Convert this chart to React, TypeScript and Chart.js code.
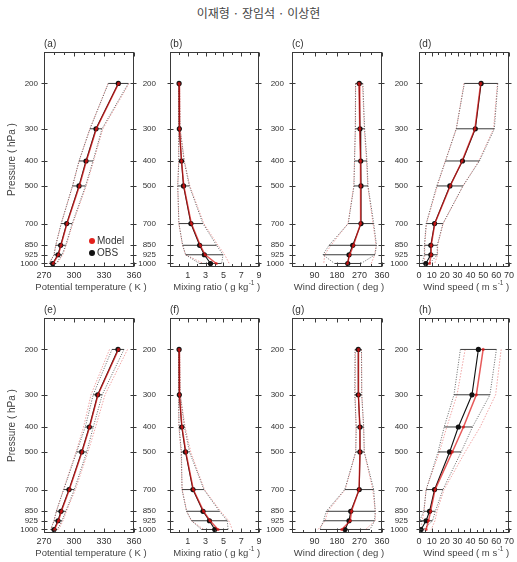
import React, { useEffect, useRef } from 'react';
import { Chart, registerables } from 'chart.js';

Chart.register(...registerables);

const FONT = '"Liberation Sans", Arial, Helvetica, sans-serif';
Chart.defaults.font.family = FONT;

// Pressure levels (hPa)
const LEVELS = [200, 300, 400, 500, 700, 850, 925, 1000];

// x-axis tick positions and the ones that carry a label
const THETA_TICKS = [270, 280, 290, 300, 310, 320, 330, 340, 350, 360];
const THETA_LABELS = [270, 300, 330, 360];
const MIX_TICKS = [-1, 0, 1, 2, 3, 4, 5, 6, 7, 8, 9];
const MIX_LABELS = [1, 3, 5, 7, 9];
const DIR_TICKS = [0, 45, 90, 135, 180, 225, 270, 315, 360];
const DIR_LABELS = [90, 180, 270, 360];
const SPD_TICKS = [0, 5, 10, 15, 20, 25, 30, 35, 40, 45, 50, 55, 60, 65, 70];
const SPD_LABELS = [0, 10, 20, 30, 40, 50, 60, 70];

// Upper row: level means and standard deviations
const thetaObsU = [344.3, 322.0, 312.0, 305.0, 292.7, 286.7, 284.0, 278.7];
const thetaObsSdU = [10.0, 6.0, 7.0, 6.5, 5.5, 5.0, 4.0, 3.5];
const thetaModU = [344.6, 322.4, 312.4, 305.4, 293.0, 287.0, 284.4, 279.2];
const thetaModSdU = [10.5, 6.5, 7.2, 6.8, 5.8, 5.2, 4.4, 4.0];

const mixObsU = [0.02, 0.05, 0.29, 0.52, 1.35, 2.33, 2.86, 3.55];
const mixObsSdU = [0.05, 0.08, 0.3, 0.65, 1.35, 1.9, 2.1, 1.25];
const mixModU = [0.02, 0.06, 0.3, 0.55, 1.4, 2.4, 2.95, 4.2];
const mixModSdU = [0.05, 0.09, 0.32, 0.68, 1.4, 2.0, 2.2, 1.45];

const dirObsU = [269, 272, 275, 276, 276, 243, 228, 223];
const dirObsSdU = [14.5, 18.5, 25, 28, 51, 95, 104, 53];
const dirModU = [268, 271, 274, 275, 274, 246, 231, 222];
const dirModSdU = [14, 18, 24, 28, 50, 90, 100, 95];

const spdObsU = [48.3, 43.8, 33.8, 24.0, 12.1, 9.2, 9.2, 5.3];
const spdObsSdU = [13, 14.8, 13.2, 10.2, 6.5, 5, 5, 3];
const spdModU = [48.0, 43.5, 33.5, 24.3, 12.3, 9.5, 9.5, 8.2];
const spdModSdU = [13, 14.5, 13, 10, 6.5, 5, 5, 4];

// Lower row
const thetaObsL = [344.0, 323.7, 315.3, 307.7, 295.0, 287.0, 284.0, 280.0];
const thetaObsSdL = [6, 4.5, 4, 5, 5.3, 4.7, 4, 3.3];
const thetaModL = [344.5, 324.0, 315.6, 308.0, 295.4, 287.4, 284.5, 280.6];
const thetaModSdL = [9, 7, 6, 6, 6, 5, 4.5, 4];

const mixObsL = [0.02, 0.05, 0.32, 0.74, 1.58, 2.71, 3.43, 4.03];
const mixObsSdL = [0.05, 0.1, 0.3, 0.45, 1.23, 1.85, 2.0, 1.5];
const mixModL = [0.02, 0.06, 0.35, 0.78, 1.62, 2.78, 3.5, 4.4];
const mixModSdL = [0.05, 0.1, 0.35, 0.55, 1.25, 1.9, 2.1, 1.6];

const dirObsL = [265, 265, 272, 272, 269, 235, 228, 212];
const dirObsSdL = [13, 14, 15, 17, 58, 98, 102, 100];
const dirModL = [266, 266, 271, 272, 268, 238, 233, 199];
const dirModSdL = [12, 13, 15, 17, 55, 95, 100, 95];

const spdObsL = [46.2, 41.2, 30.6, 23.8, 12.1, 8.2, 5.5, 1.6];
const spdObsSdL = [14, 14, 11, 9, 6.5, 4.5, 5, 2];
const spdModL = [49.9, 44.6, 34.6, 25.9, 12.5, 9.0, 7.4, 5.5];
const spdModSdL = [14, 15, 13, 10, 7, 5, 5, 4];

// Panel geometry
const PL = 44; // room left of the frame for pressure labels
const PT = 22; // room above the frame for the panel tag
const PB = 27; // room below the frame for x labels and title
const FRAME_H = 215;
const ROW_TOPS = [52, 318];
const P_MIN = 151;
const P_MAX = 1032;

type Column = {
  left: number;
  width: number;
  min: number;
  max: number;
  ticks: number[];
  labels: number[];
  title: string[];
  gap: number;
};

const COLUMNS: Column[] = [
  { left: 44, width: 90, min: 270, max: 360, ticks: THETA_TICKS, labels: THETA_LABELS, title: ['Potential temperature ( K )'], gap: 6 },
  { left: 170, width: 89, min: -1, max: 9, ticks: MIX_TICKS, labels: MIX_LABELS, title: ['Mixing ratio ( g kg', '-1', ' )'], gap: 14 },
  { left: 292, width: 90, min: 0, max: 360, ticks: DIR_TICKS, labels: DIR_LABELS, title: ['Wind direction ( deg )'], gap: 8 },
  { left: 419, width: 90, min: 0, max: 70, ticks: SPD_TICKS, labels: SPD_LABELS, title: ['Wind speed ( m s', '-1', ' )'], gap: 11 },
];

type Series = { obs: number[]; obsSd: number[]; mod: number[]; modSd: number[] };

const ROW_SERIES: Series[][] = [
  [
    { obs: thetaObsU, obsSd: thetaObsSdU, mod: thetaModU, modSd: thetaModSdU },
    { obs: mixObsU, obsSd: mixObsSdU, mod: mixModU, modSd: mixModSdU },
    { obs: dirObsU, obsSd: dirObsSdU, mod: dirModU, modSd: dirModSdU },
    { obs: spdObsU, obsSd: spdObsSdU, mod: spdModU, modSd: spdModSdU },
  ],
  [
    { obs: thetaObsL, obsSd: thetaObsSdL, mod: thetaModL, modSd: thetaModSdL },
    { obs: mixObsL, obsSd: mixObsSdL, mod: mixModL, modSd: mixModSdL },
    { obs: dirObsL, obsSd: dirObsSdL, mod: dirModL, modSd: dirModSdL },
    { obs: spdObsL, obsSd: spdObsSdL, mod: spdModL, modSd: spdModSdL },
  ],
];

const TAGS = [
  ['(a)', '(b)', '(c)', '(d)'],
  ['(e)', '(f)', '(g)', '(h)'],
];

type PanelCfg = {
  tag: string;
  col: Column;
  top: number;
  series: Series;
  yTitle: boolean;
  legend: boolean;
};

const PANELS: PanelCfg[] = [];
ROW_TOPS.forEach((top, r) => {
  COLUMNS.forEach((col, c) => {
    PANELS.push({ tag: TAGS[r][c], col, top, series: ROW_SERIES[r][c], yTitle: c === 0, legend: r === 0 && c === 0 });
  });
});

const OBS_COLOR = '#111111';
const MOD_COLOR = '#e3201b';
const MOD_LINE = 'rgba(220,20,20,0.7)';

const atLevels = (xs: number[]) => xs.map((x, i) => ({ x, y: LEVELS[i] }));

function buildDatasets(s: Series): any[] {
  const bars = LEVELS.map((p, i) => ({
    data: [
      { x: s.obs[i] - s.obsSd[i], y: p },
      { x: s.obs[i] + s.obsSd[i], y: p },
    ],
    borderColor: '#3a3a3a',
    borderWidth: 1,
    pointRadius: 0,
  }));
  const envelope = (vals: number[], sd: number[], sign: number, color: string, dash: number[]) => ({
    data: atLevels(vals.map((v, i) => v + sign * sd[i])),
    borderColor: color,
    borderWidth: 0.9,
    borderDash: dash,
    pointRadius: 0,
  });
  // first entries are drawn on top
  return [
    {
      label: 'Model',
      data: atLevels(s.mod),
      borderColor: MOD_LINE,
      borderWidth: 1.5,
      pointRadius: 1.6,
      pointBackgroundColor: MOD_LINE,
      pointBorderWidth: 0,
    },
    {
      label: 'OBS',
      data: atLevels(s.obs),
      borderColor: OBS_COLOR,
      borderWidth: 1.1,
      pointRadius: 2.6,
      pointBackgroundColor: OBS_COLOR,
      pointBorderWidth: 0,
    },
    ...bars,
    envelope(s.obs, s.obsSd, -1, '#555555', [1, 1.5]),
    envelope(s.obs, s.obsSd, 1, '#555555', [1, 1.5]),
    envelope(s.mod, s.modSd, -1, 'rgba(225,70,70,0.55)', [1.5, 1.5]),
    envelope(s.mod, s.modSd, 1, 'rgba(225,70,70,0.55)', [1.5, 1.5]),
  ];
}

function framePlugin(p: PanelCfg) {
  return {
    id: 'profileFrame',
    afterDraw(chart: any) {
      const { ctx, chartArea, scales } = chart;
      const { left, right, top, bottom } = chartArea;
      const xs = scales.x;
      const ys = scales.y;
      ctx.save();

      // frame and inward ticks
      ctx.strokeStyle = '#3a3a3a';
      ctx.lineWidth = 1;
      const L = Math.round(left) + 0.5;
      const R = Math.round(right) - 0.5;
      const T = Math.round(top) + 0.5;
      const B = Math.round(bottom) - 0.5;
      ctx.strokeRect(L, T, R - L, B - T);
      ctx.beginPath();
      for (const v of p.col.ticks) {
        const x = Math.round(xs.getPixelForValue(v)) + 0.5;
        const len = p.col.labels.includes(v) ? 4 : 2.5;
        ctx.moveTo(x, B);
        ctx.lineTo(x, B - len);
        ctx.moveTo(x, T);
        ctx.lineTo(x, T + len);
      }
      for (const lv of LEVELS) {
        const y = Math.round(ys.getPixelForValue(lv)) + 0.5;
        ctx.moveTo(L - 3, y);
        ctx.lineTo(L + 3, y);
        ctx.moveTo(R - 3, y);
        ctx.lineTo(R + 3, y);
      }
      ctx.stroke();

      // panel tag
      ctx.fillStyle = '#333';
      ctx.font = `10px ${FONT}`;
      ctx.textAlign = 'left';
      ctx.textBaseline = 'alphabetic';
      ctx.fillText(p.tag, left, top - 5);

      // x-axis title, with an optional superscript part
      const baseFont = `9.5px ${FONT}`;
      const supFont = `6.5px ${FONT}`;
      const [t0, t1, t2] = p.col.title;
      ctx.font = baseFont;
      const w0 = ctx.measureText(t0).width;
      const w2 = t2 ? ctx.measureText(t2).width : 0;
      ctx.font = supFont;
      const w1 = t1 ? ctx.measureText(t1).width : 0;
      let x = (left + right) / 2 + 2 - (w0 + w1 + w2) / 2;
      const y = bottom + 20;
      ctx.fillStyle = '#444';
      ctx.textBaseline = 'middle';
      ctx.font = baseFont;
      ctx.fillText(t0, x, y);
      x += w0;
      if (t1) {
        ctx.font = supFont;
        ctx.fillText(t1, x + 0.5, y - 4);
        x += w1 + 0.5;
      }
      if (t2) {
        ctx.font = baseFont;
        ctx.fillText(t2, x, y);
      }

      // legend
      if (p.legend) {
        const items = [
          { label: 'Model', color: MOD_COLOR, y: 241 - p.top + top },
          { label: 'OBS', color: OBS_COLOR, y: 253 - p.top + top },
        ];
        ctx.font = `10px ${FONT}`;
        ctx.textBaseline = 'middle';
        for (const it of items) {
          ctx.fillStyle = it.color;
          ctx.beginPath();
          ctx.arc(left + 48, it.y, 3, 0, Math.PI * 2);
          ctx.fill();
          ctx.fillStyle = '#333';
          ctx.fillText(it.label, left + 53, it.y);
        }
      }
      ctx.restore();
    },
  };
}

function ProfilePanel({ p }: { p: PanelCfg }) {
  const ref = useRef<HTMLCanvasElement>(null);
  const PR = Math.min(24, 517 - (p.col.left + p.col.width));
  const W = PL + p.col.width + PR;
  const H = PT + FRAME_H + PB;
  const cLeft = p.col.left - PL;
  const cTop = p.top - PT;

  useEffect(() => {
    const canvas = ref.current;
    if (!canvas) return;
    const chart = new Chart(canvas, {
      type: 'line',
      data: { datasets: buildDatasets(p.series) },
      options: {
        animation: false,
        responsive: false,
        maintainAspectRatio: false,
        layout: { padding: { left: 0, right: PR, top: PT, bottom: 0 } },
        elements: { line: { tension: 0 } },
        plugins: { legend: { display: false }, tooltip: { enabled: false } },
        scales: {
          x: {
            type: 'linear',
            position: 'bottom',
            min: p.col.min,
            max: p.col.max,
            bounds: 'data',
            grid: { display: false, drawTicks: false },
            border: { display: false },
            afterBuildTicks: (s: any) => {
              s.ticks = p.col.ticks.map((v) => ({ value: v }));
            },
            ticks: {
              autoSkip: false,
              maxRotation: 0,
              padding: 3,
              color: '#333',
              font: { size: 9 },
              callback: (v: any) => (p.col.labels.includes(Number(v)) ? String(v) : ''),
            },
            afterFit: (s: any) => {
              s.height = PB;
              s.paddingLeft = 0;
              s.paddingRight = 0;
            },
          },
          y: {
            type: 'logarithmic',
            position: 'left',
            reverse: true,
            min: P_MIN,
            max: P_MAX,
            bounds: 'data',
            grid: { display: false, drawTicks: false },
            border: { display: false },
            afterBuildTicks: (s: any) => {
              s.ticks = LEVELS.map((v) => ({ value: v }));
            },
            ticks: {
              autoSkip: false,
              padding: p.col.gap,
              color: '#333',
              font: { size: 8 },
              callback: (v: any) => String(v),
            },
            title: {
              display: p.yTitle,
              text: 'Pressure ( hPa )',
              color: '#444',
              font: { size: 10 },
              padding: { top: 6, bottom: 0 },
            },
            afterFit: (s: any) => {
              s.width = PL;
              s.paddingTop = 0;
              s.paddingBottom = 0;
            },
          },
        },
      } as any,
      plugins: [framePlugin(p)],
    });
    return () => chart.destroy();
  }, [p]);

  return (
    <canvas
      ref={ref}
      width={W}
      height={H}
      style={{ position: 'absolute', left: cLeft, top: cTop, width: W, height: H }}
    />
  );
}

export default function App() {
  return (
    <div style={{ position: 'fixed', left: 0, top: 0, width: 517, height: 562, background: '#fff', overflow: 'hidden' }}>
      <div
        style={{
          position: 'absolute',
          left: 0,
          top: 6,
          width: 517,
          textAlign: 'center',
          fontFamily: '"Noto Sans CJK KR", sans-serif',
          fontSize: 12,
          lineHeight: '14px',
          color: '#444',
        }}
      >
        이재형 · 장임석 · 이상현
      </div>
      {PANELS.map((p) => (
        <ProfilePanel key={p.tag} p={p} />
      ))}
    </div>
  );
}
